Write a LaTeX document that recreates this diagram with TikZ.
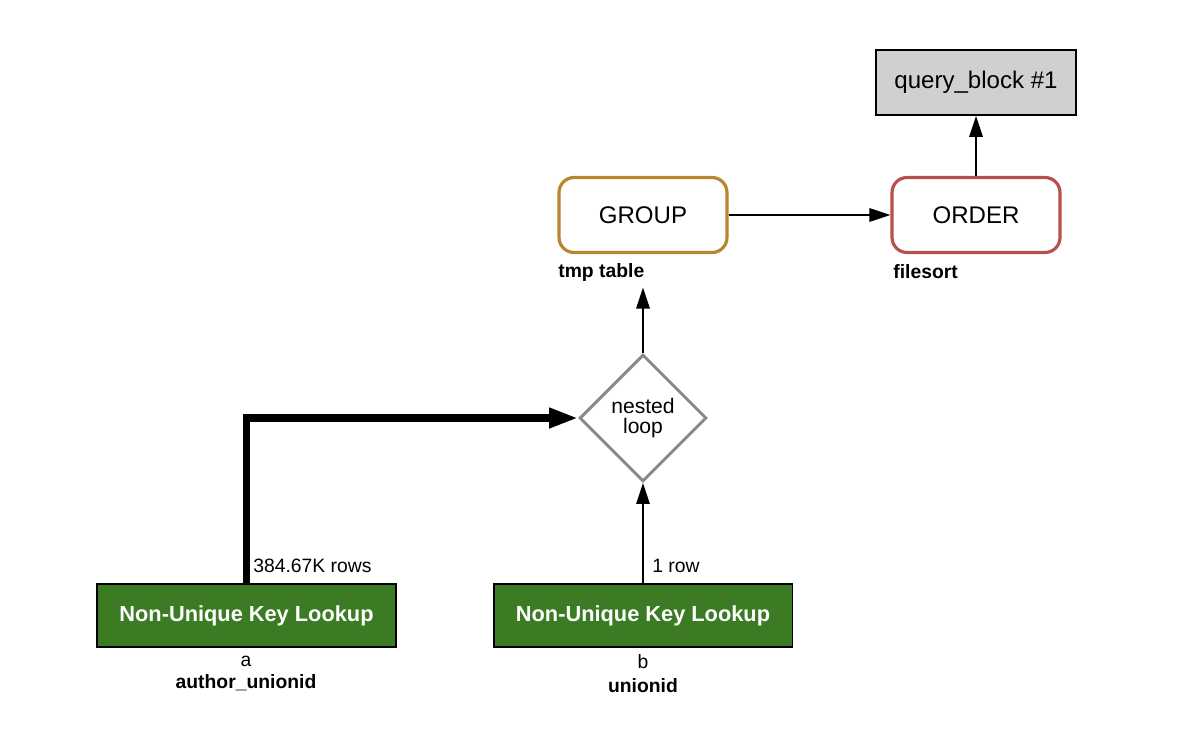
\documentclass[tikz,border=0pt]{standalone}
\usepackage{fontspec}
\setmainfont{Liberation Sans}
\usetikzlibrary{shapes.geometric,arrows.meta}
\definecolor{grpbrown}{HTML}{B8862E}
\definecolor{ordred}{HTML}{B5504C}
\definecolor{keygreen}{HTML}{3A7B23}
\definecolor{qbgray}{HTML}{D0D0D0}
\definecolor{nlgray}{HTML}{888888}
\newcommand{\opfont}{\fontsize{13.7}{16}\selectfont}
\newcommand{\nlfont}{\fontsize{12}{11.5}\selectfont}
\newcommand{\lookfont}{\fontsize{12.4}{15}\selectfont\bfseries}
\newcommand{\lblfont}{\fontsize{11}{13}\selectfont}
\newcommand{\blblfont}{\fontsize{11}{13}\selectfont\bfseries}

\begin{document}
\begin{tikzpicture}[x=.02cm,y=-.02cm,
  op/.style={draw,fill=white,rounded corners=.3cm,line width=1.8pt,minimum width=3.36cm,minimum height=1.5cm,font=\opfont},
  lookup/.style={draw,fill=keygreen,line width=1.1pt,minimum width=5.98cm,minimum height=1.26cm,text=white,font=\lookfont},
  lbl/.style={inner sep=0pt,font=\lblfont},
  blbl/.style={inner sep=0pt,font=\blblfont},
  arr/.style={line width=.9pt,-{Triangle[length=.42cm,width=.27cm]}}]
\useasboundingbox (0,0) rectangle (1192,740);
\node[draw,fill=qbgray,line width=1.1pt,minimum width=4cm,minimum height=1.3cm,font=\opfont] (qb) at (976,82.5) {query\_block \#1};
\node[op,draw=grpbrown] (grp) at (643,215) {GROUP};
\node[op,draw=ordred] (ord) at (976,215) {ORDER};
\node[blbl,anchor=west] (tmp) at (558,272) {tmp table};
\node[blbl,anchor=west] (fs) at (893,272) {filesort};
\node[diamond,draw=nlgray,fill=white,line width=1.7pt,aspect=1,minimum width=2.54cm,minimum height=2.54cm,inner sep=0pt,align=center,font=\nlfont] (nl) at (643,418) {nested\\loop};
\node[lookup] (ka) at (246.5,615.5) {Non-Unique Key Lookup};
\node[lookup] (kb) at (643,615.5) {Non-Unique Key Lookup};
\node[lbl] (ta) at (246,661) {a};
\node[blbl] (ia) at (246,683) {author\_unionid};
\node[lbl] (tb) at (643,662) {b};
\node[blbl] (ib) at (643,686) {unionid};
\node[lbl,anchor=west] (ra) at (253,566) {384.67K rows};
\node[lbl,anchor=west] (rb) at (652,566) {1 row};
\draw[arr] (grp) -- (ord);
\draw[arr] (ord) -- (qb);
\draw[arr,shorten >=3.5pt] (nl) -- (nl |- tmp.south);
\draw[arr] (kb) -- (nl);
\draw[line width=4pt,-{Triangle[length=.58cm,width=.38cm]}] (ka) |- (nl);
\end{tikzpicture}
\end{document}
